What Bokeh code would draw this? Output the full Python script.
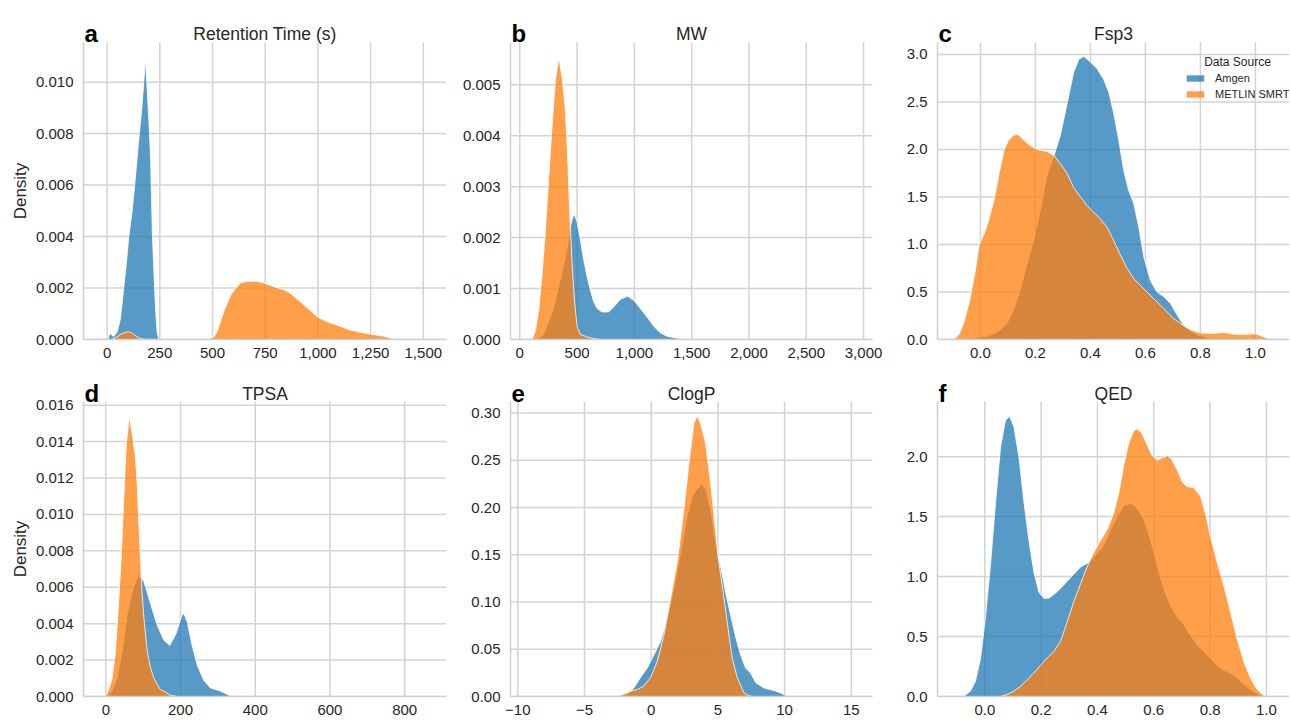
from bokeh.plotting import figure
from bokeh.layouts import column, row
from bokeh.models import Range1d, FixedTicker, NumeralTickFormatter, Label, Legend, LegendItem, Title
from bokeh.embed import file_html
from bokeh.resources import INLINE

# ---------------- data ----------------
SOURCES = ["Amgen", "METLIN SMRT"]

# a  Retention Time (s)
RT_AMGEN_X = [4, 10, 16, 24, 32, 48, 63, 79, 92, 103, 119, 131, 142, 153, 165, 174, 182, 188, 195, 201, 206, 209, 212, 215, 220, 225, 231, 237, 245]
RT_AMGEN_Y = [0, 0.00015, 0.00025, 0.00015, 0.00012, 0.0003, 0.0008, 0.002, 0.003, 0.004, 0.005, 0.006, 0.007, 0.008, 0.009, 0.010, 0.0109, 0.010, 0.009, 0.008, 0.007, 0.006, 0.005, 0.004, 0.003, 0.002, 0.001, 0.0003, 0]
RT_METLIN_X = [20, 47, 63, 79, 95, 110, 126, 142, 158, 180, 260, 470, 483, 506, 522, 538, 554, 570, 585, 601, 633, 665, 712, 744, 791, 838, 870, 918, 997, 1044, 1076, 1155, 1234, 1313, 1369]
RT_METLIN_Y = [0, 0.0001, 0.0002, 0.00025, 0.0003, 0.00028, 0.0002, 0.0001, 0.00004, 0.00001, 0, 0, 0.00003, 0.0001, 0.0003, 0.0007, 0.0011, 0.0014, 0.0017, 0.0019, 0.0022, 0.00226, 0.00226, 0.0022, 0.00205, 0.00194, 0.00179, 0.00146, 0.00088, 0.00069, 0.0006, 0.00036, 0.00023, 0.00013, 0]

# b  MW
MW_AMGEN_X = [151, 200, 224, 260, 297, 335, 369, 413, 442, 462, 477, 500, 529, 558, 587, 616, 645, 674, 718, 776, 820, 878, 942, 994, 1052, 1110, 1169, 1227, 1285, 1372, 1459]
MW_AMGEN_Y = [0, 0.00008, 0.00018, 0.0004, 0.00064, 0.001, 0.0013, 0.0018, 0.00222, 0.0024, 0.00245, 0.0023, 0.00195, 0.00156, 0.00123, 0.00097, 0.00074, 0.00061, 0.00054, 0.00054, 0.00064, 0.00079, 0.00085, 0.00077, 0.00061, 0.00044, 0.00026, 0.00013, 0.000065, 0.000026, 0]
MW_METLIN_X = [108, 137, 166, 195, 224, 253, 282, 311, 340, 369, 398, 419, 436, 456, 477, 500, 529, 587, 645, 703]
MW_METLIN_Y = [0, 0.00018, 0.00058, 0.0013, 0.00214, 0.0032, 0.0042, 0.0051, 0.00553, 0.00515, 0.0045, 0.0035, 0.00247, 0.0015, 0.00077, 0.00025, 0.0001, 0.00005, 0.00002, 0]

# c  Fsp3
FSP3_AMGEN_X = [-0.048, -0.012, 0.024, 0.048, 0.073, 0.097, 0.121, 0.145, 0.17, 0.194, 0.218, 0.242, 0.267, 0.291, 0.315, 0.339, 0.358, 0.376, 0.4, 0.424, 0.448, 0.467, 0.485, 0.503, 0.521, 0.539, 0.558, 0.576, 0.594, 0.618, 0.642, 0.667, 0.691, 0.715, 0.739, 0.764, 0.788, 0.824, 0.86]
FSP3_AMGEN_Y = [0, 0.02, 0.035, 0.06, 0.1, 0.17, 0.31, 0.52, 0.8, 1.04, 1.36, 1.72, 1.93, 2.15, 2.48, 2.81, 2.95, 2.98, 2.92, 2.85, 2.74, 2.6, 2.38, 2.1, 1.78, 1.57, 1.43, 1.18, 0.87, 0.62, 0.5, 0.45, 0.38, 0.26, 0.15, 0.09, 0.05, 0.02, 0]
FSP3_METLIN_X = [-0.095, -0.076, -0.058, -0.039, -0.02, -0.004, 0.012, 0.03, 0.052, 0.07, 0.087, 0.103, 0.12, 0.136, 0.158, 0.182, 0.206, 0.242, 0.267, 0.291, 0.315, 0.339, 0.364, 0.388, 0.412, 0.436, 0.461, 0.485, 0.509, 0.533, 0.558, 0.582, 0.606, 0.63, 0.655, 0.679, 0.703, 0.727, 0.752, 0.776, 0.8, 0.836, 0.885, 0.921, 0.958, 1.0, 1.024, 1.048, 1.06]
FSP3_METLIN_Y = [0, 0.06, 0.2, 0.41, 0.7, 1.0, 1.1, 1.25, 1.5, 1.78, 2.0, 2.1, 2.15, 2.16, 2.1, 2.04, 2.0, 1.98, 1.94, 1.85, 1.75, 1.6, 1.5, 1.41, 1.34, 1.27, 1.18, 1.04, 0.89, 0.75, 0.64, 0.57, 0.5, 0.43, 0.36, 0.29, 0.22, 0.17, 0.12, 0.09, 0.07, 0.063, 0.074, 0.056, 0.053, 0.06, 0.035, 0.007, 0]

# d  TPSA
TPSA_AMGEN_X = [4, 17, 30, 44, 57, 71, 80, 88, 96, 102, 111, 124, 138, 155, 171, 187, 204, 209, 218, 231, 245, 262, 280, 307, 330, 345]
TPSA_AMGEN_Y = [0, 0.0003, 0.001, 0.0025, 0.0045, 0.0058, 0.0063, 0.0066, 0.0065, 0.0063, 0.0057, 0.0048, 0.0039, 0.0031, 0.0028, 0.0034, 0.00446, 0.00455, 0.0041, 0.0028, 0.0017, 0.0009, 0.00047, 0.0003, 0.00007, 0]
TPSA_METLIN_X = [-1, 8, 17, 26, 35, 41, 48, 55, 63, 71, 79, 84, 88, 93, 97, 102, 111, 120, 129, 138, 146, 160, 173, 190]
TPSA_METLIN_Y = [0, 0.00038, 0.001, 0.0025, 0.0054, 0.0075, 0.0108, 0.0139, 0.01537, 0.0144, 0.0132, 0.0117, 0.0097, 0.0075, 0.0057, 0.0043, 0.00246, 0.00156, 0.001, 0.00065, 0.00038, 0.00024, 0.00007, 0]

# e  ClogP
CLOGP_AMGEN_X = [-2.55, -1.8, -1.3, -0.8, -0.3, 0.2, 0.7, 1.2, 1.7, 2.2, 2.7, 3.08, 3.45, 3.78, 4.08, 4.45, 5.0, 5.2, 5.58, 5.95, 6.33, 6.7, 7.08, 7.45, 7.83, 8.45, 9.2, 9.7, 10.2, 10.5]
CLOGP_AMGEN_Y = [0, 0.002, 0.009, 0.02, 0.03, 0.044, 0.058, 0.0825, 0.114, 0.152, 0.191, 0.212, 0.22, 0.225, 0.22, 0.198, 0.149, 0.138, 0.11, 0.086, 0.063, 0.044, 0.03, 0.025, 0.0147, 0.009, 0.0063, 0.0038, 0.0003, 0]
CLOGP_METLIN_X = [-2.9, -2.3, -1.55, -1.05, -0.55, -0.05, 0.45, 0.95, 1.45, 1.95, 2.45, 2.83, 3.2, 3.45, 3.7, 4.08, 4.45, 4.83, 5.0, 5.4, 5.83, 6.08, 6.45, 6.95, 7.33, 7.6]
CLOGP_METLIN_Y = [0, 0.0014, 0.0056, 0.0073, 0.011, 0.02, 0.037, 0.065, 0.1035, 0.142, 0.198, 0.247, 0.289, 0.297, 0.289, 0.268, 0.226, 0.175, 0.149, 0.11, 0.065, 0.04, 0.02, 0.004, 0.0007, 0]

# f  QED
QED_AMGEN_X = [-0.075, -0.051, -0.033, -0.015, 0.002, 0.02, 0.038, 0.056, 0.073, 0.088, 0.103, 0.121, 0.138, 0.156, 0.174, 0.192, 0.209, 0.227, 0.245, 0.269, 0.292, 0.316, 0.34, 0.363, 0.375, 0.399, 0.422, 0.446, 0.47, 0.493, 0.52, 0.541, 0.564, 0.588, 0.612, 0.635, 0.659, 0.683, 0.706, 0.73, 0.754, 0.777, 0.801, 0.825, 0.848, 0.872, 0.896, 0.92, 0.943, 0.967, 0.985, 0.997]
QED_AMGEN_Y = [0, 0.044, 0.127, 0.32, 0.65, 1.09, 1.61, 2.08, 2.3, 2.336, 2.25, 2.0, 1.64, 1.31, 1.04, 0.87, 0.82, 0.82, 0.85, 0.9, 0.96, 1.02, 1.08, 1.11, 1.13, 1.19, 1.26, 1.39, 1.5, 1.59, 1.61, 1.57, 1.48, 1.31, 1.09, 0.9, 0.76, 0.66, 0.6, 0.51, 0.43, 0.375, 0.32, 0.26, 0.22, 0.196, 0.154, 0.1, 0.058, 0.022, 0.005, 0]
QED_METLIN_X = [0.056, 0.079, 0.103, 0.127, 0.15, 0.174, 0.198, 0.221, 0.245, 0.269, 0.292, 0.316, 0.34, 0.363, 0.387, 0.411, 0.434, 0.458, 0.476, 0.493, 0.511, 0.529, 0.543, 0.559, 0.576, 0.594, 0.612, 0.63, 0.65, 0.665, 0.683, 0.701, 0.718, 0.742, 0.766, 0.783, 0.801, 0.825, 0.848, 0.872, 0.896, 0.92, 0.943, 0.967, 0.99, 1.002]
QED_METLIN_Y = [0, 0.017, 0.044, 0.085, 0.14, 0.196, 0.26, 0.32, 0.375, 0.46, 0.62, 0.79, 0.94, 1.08, 1.2, 1.3, 1.39, 1.53, 1.7, 1.92, 2.11, 2.22, 2.23, 2.19, 2.1, 2.01, 1.97, 1.99, 2.01, 1.97, 1.89, 1.79, 1.75, 1.74, 1.67, 1.53, 1.34, 1.12, 0.93, 0.71, 0.48, 0.29, 0.154, 0.058, 0.011, 0]

# tick values
RT_XTICKS = [0, 250, 500, 750, 1000, 1250, 1500]
RT_YTICKS = [0, 0.002, 0.004, 0.006, 0.008, 0.010]
MW_XTICKS = [0, 500, 1000, 1500, 2000, 2500, 3000]
MW_YTICKS = [0, 0.001, 0.002, 0.003, 0.004, 0.005]
FSP3_XTICKS = [0, 0.2, 0.4, 0.6, 0.8, 1.0]
FSP3_YTICKS = [0, 0.5, 1.0, 1.5, 2.0, 2.5, 3.0]
TPSA_XTICKS = [0, 200, 400, 600, 800]
TPSA_YTICKS = [0, 0.002, 0.004, 0.006, 0.008, 0.010, 0.012, 0.014, 0.016]
CLOGP_XTICKS = [-10, -5, 0, 5, 10, 15]
CLOGP_YTICKS = [0, 0.05, 0.10, 0.15, 0.20, 0.25, 0.30]
QED_XTICKS = [0, 0.2, 0.4, 0.6, 0.8, 1.0]
QED_YTICKS = [0, 0.5, 1.0, 1.5, 2.0]

# ---------------- style ----------------
FONT = "Liberation Sans"
BLUE = "#1f77b4"
ORANGE = "#ff7f0e"
TXT = "#262626"
GRID = "#d3d3d3"
ALPHA = 0.75

# layout (pixels)
FW = [363, 362, 352]          # plot-area widths per column
LEFT = [83, 54, 53]
RIGHT = [10, 12, 0]
HEAD = [42, 34]               # space for title above the data area (inside the frame)
DATA_H = [297, 295]           # data-area heights per row
BOTTOM = [28, 25]
YLABEL_W = 56.7               # approx. width of "Density" at 17px


def pair(xs, ys):
    n = min(len(xs), len(ys))
    return list(xs[:n]), list(ys[:n])


def panel(letter, title, xr, ytop, xticks, yticks, xfmt, yfmt, blue, orange,
          col, rw, ylabel=None, xover=None):
    fw = FW[col]
    dh = DATA_H[rw]
    fh = dh + HEAD[rw]
    yend = ytop * fh / dh
    p = figure(frame_width=fw, frame_height=fh,
               x_range=Range1d(*xr), y_range=Range1d(0, yend),
               output_backend="svg", toolbar_location=None,
               min_border_left=LEFT[col], min_border_right=RIGHT[col],
               min_border_top=0, min_border_bottom=BOTTOM[rw])
    p.outline_line_color = None
    p.background_fill_color = "white"
    p.border_fill_color = "white"
    p.grid.visible = False

    p.xaxis.ticker = FixedTicker(ticks=xticks)
    p.yaxis.ticker = FixedTicker(ticks=yticks)
    p.xaxis.formatter = NumeralTickFormatter(format=xfmt)
    p.yaxis.formatter = NumeralTickFormatter(format=yfmt)
    p.yaxis.bounds = (0, ytop)
    if xover:
        p.xaxis.major_label_overrides = xover
    for ax in (p.xaxis, p.yaxis):
        ax.axis_line_color = "#cfcfcf"
        ax.axis_line_width = 1.5
        ax.major_tick_line_color = None
        ax.minor_tick_line_color = None
        ax.major_tick_out = 0
        ax.major_tick_in = 0
        ax.minor_tick_out = 0
        ax.minor_tick_in = 0
        ax.major_label_text_font = FONT
        ax.major_label_text_font_size = "15px"
        ax.major_label_text_color = TXT
    p.yaxis.major_label_standoff = 10
    p.xaxis.major_label_standoff = 8
    if ylabel:
        # y-axis label centred on the data area (the frame also holds the title strip)
        p.add_layout(Title(text=ylabel, align="left", offset=dh / 2 - YLABEL_W / 2, standoff=5,
                           text_font=FONT, text_font_size="17px", text_font_style="normal",
                           text_color=TXT), "left")

    # grid lines at the tick positions, limited to the data area
    nx, ny = len(xticks), len(yticks)
    p.segment(x0=xticks, y0=[0] * nx, x1=xticks, y1=[ytop] * nx,
              line_color=GRID, line_width=1.5, level="underlay")
    p.segment(x0=[xr[0]] * ny, y0=yticks, x1=[xr[1]] * ny, y1=yticks,
              line_color=GRID, line_width=1.5, level="underlay")

    bx, by = pair(*blue)
    ox, oy = pair(*orange)
    rb = p.varea(x=bx, y1=0, y2=by, fill_color=BLUE, fill_alpha=ALPHA)
    p.line(bx, by, line_color="white", line_width=1, line_alpha=0.8)
    ro = p.varea(x=ox, y1=0, y2=oy, fill_color=ORANGE, fill_alpha=ALPHA)
    p.line(ox, oy, line_color="white", line_width=1, line_alpha=0.8)

    base = dh + (9 if rw == 0 else 8)
    p.add_layout(Label(x=1, y=base, x_units="screen", y_units="screen", text=letter,
                       text_font=FONT, text_font_size="24px", text_font_style="bold",
                       text_color="black", text_align="left", text_baseline="alphabetic"))
    p.add_layout(Label(x=fw / 2, y=base, x_units="screen", y_units="screen", text=title,
                       text_font=FONT, text_font_size="17.5px", text_font_style="normal",
                       text_color=TXT, text_align="center", text_baseline="alphabetic"))
    return p, rb, ro


pa, _, _ = panel("a", "Retention Time (s)", (-112, 1610), 0.01154, RT_XTICKS, RT_YTICKS, "0,0", "0.000",
                 (RT_AMGEN_X, RT_AMGEN_Y), (RT_METLIN_X, RT_METLIN_Y), 0, 0, ylabel="Density")
pb, _, _ = panel("b", "MW", (-81, 3078), 0.00583, MW_XTICKS, MW_YTICKS, "0,0", "0.000",
                 (MW_AMGEN_X, MW_AMGEN_Y), (MW_METLIN_X, MW_METLIN_Y), 1, 0)
pc, rbc, roc = panel("c", "Fsp3", (-0.156, 1.124), 3.126, FSP3_XTICKS, FSP3_YTICKS, "0.0", "0.0",
                     (FSP3_AMGEN_X, FSP3_AMGEN_Y), (FSP3_METLIN_X, FSP3_METLIN_Y), 2, 0)
pd, _, _ = panel("d", "TPSA", (-59.7, 912), 0.0162, TPSA_XTICKS, TPSA_YTICKS, "0", "0.000",
                 (TPSA_AMGEN_X, TPSA_AMGEN_Y), (TPSA_METLIN_X, TPSA_METLIN_Y), 0, 1, ylabel="Density")
pe, _, _ = panel("e", "ClogP", (-10.55, 16.59), 0.3123, CLOGP_XTICKS, CLOGP_YTICKS, "0", "0.00",
                 (CLOGP_AMGEN_X, CLOGP_AMGEN_Y), (CLOGP_METLIN_X, CLOGP_METLIN_Y), 1, 1,
                 xover={-10: "\u221210", -5: "\u22125"})
pf, _, _ = panel("f", "QED", (-0.168, 1.082), 2.46, QED_XTICKS, QED_YTICKS, "0.0", "0.0",
                 (QED_AMGEN_X, QED_AMGEN_Y), (QED_METLIN_X, QED_METLIN_Y), 2, 1)

legend = Legend(items=[LegendItem(label=SOURCES[0], renderers=[rbc]),
                       LegendItem(label=SOURCES[1], renderers=[roc])],
                location=(247, 237), border_line_color=None, background_fill_alpha=0,
                glyph_width=22, glyph_height=8, label_height=16, label_standoff=9,
                spacing=0, padding=0, margin=0,
                label_text_font=FONT, label_text_font_size="11px", label_text_color=TXT)
pc.add_layout(legend)
pc.add_layout(Label(x=300, y=278, x_units="screen", y_units="screen", text="Data Source",
                    text_font=FONT, text_font_size="12px", text_color=TXT,
                    text_align="center", text_baseline="middle"))

layout = column(row(pa, pb, pc), row(pd, pe, pf))
open("out.html", "w").write(file_html(layout, INLINE))
